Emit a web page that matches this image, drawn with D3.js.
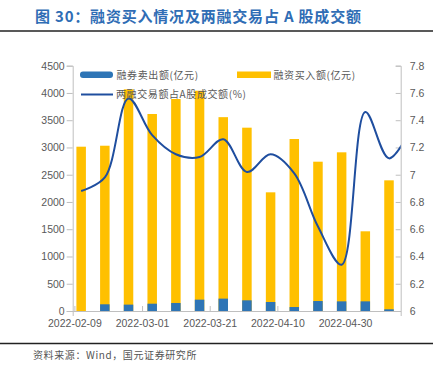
<!DOCTYPE html>
<html><head><meta charset="utf-8">
<script src="https://cdn.jsdelivr.net/npm/d3@7"></script>
<style>
html,body{margin:0;padding:0;background:#fff;}
svg{display:block;}
</style></head>
<body>
<svg id="c" width="446" height="391"></svg>
<script>
// ---- data ----
const dates = ["2022-02-11","2022-02-18","2022-02-25","2022-03-04","2022-03-11","2022-03-18","2022-03-25","2022-04-01","2022-04-08","2022-04-15","2022-04-22","2022-04-29","2022-05-06","2022-05-13"];
const marginSell = [0, 123, 117, 134, 147, 208, 227, 196, 165, 73, 183, 177, 177, 31];       // 融券卖出额(亿元)
const marginBuy  = [3014, 3032, 4067, 3614, 3889, 4041, 3556, 3363, 2177, 3155, 2739, 2911, 1462, 2397]; // 融资买入额(亿元)
const ratioDates = ["2022-02-11","2022-02-18","2022-02-25","2022-03-04","2022-03-11","2022-03-18","2022-03-25","2022-04-01","2022-04-08","2022-04-15","2022-04-22","2022-04-29","2022-05-06","2022-05-13","2022-05-20"];
const ratio = [6.88, 6.98, 7.56, 7.29, 7.15, 7.13, 7.26, 7.02, 7.15, 7.01, 6.62, 6.34, 7.46, 7.12, 7.36]; // 两融交易额占A股成交额(%)
const xTicks = ["2022-02-09","2022-03-01","2022-03-21","2022-04-10","2022-04-30"];
const leftTicks = [0,500,1000,1500,2000,2500,3000,3500,4000,4500];
const rightTicks = [6,6.2,6.4,6.6,6.8,7,7.2,7.4,7.6,7.8];
const legendNames = ["融券卖出额(亿元)","融资买入额(亿元)","两融交易额占A股成交额(%)"];
const title = "图 30：融资买入情况及两融交易占 A 股成交额";
const source = "资料来源：Wind，国元证券研究所";

// ---- layout ----
const svg = d3.select("#c");
const L = 72.7, R = 400.7, T = 65.7, B = 311;
const colBlue = "#2E75B6", colYellow = "#FFC000", colLine = "#1F4E9F", txt = "#595959", axisCol = "#BFBFBF";
const parse = s => new Date(s + "T00:00:00Z");

const x = d3.scaleUtc().domain([new Date(Date.UTC(2022,1,8,12)), new Date(Date.UTC(2022,4,16,11))]).range([L, R]);
const yL = d3.scaleLinear().domain([0, 4500]).range([B, T]);
const yR = d3.scaleLinear().domain([6, 7.8]).range([B, T]);

// title
svg.append("text").attr("x", 35).attr("y", 22).attr("fill", "#2F6DB5")
  .attr("font-family", "'Noto Sans CJK SC', sans-serif").attr("font-weight", "bold")
  .attr("font-size", 15).attr("letter-spacing", 0.8).text(title);
svg.append("line").attr("x1", 0).attr("x2", 433).attr("y1", 31).attr("y2", 31).attr("stroke", "#222").attr("stroke-width", 1.6);
svg.append("line").attr("x1", 0).attr("x2", 433).attr("y1", 343.5).attr("y2", 343.5).attr("stroke", "#222").attr("stroke-width", 1.4);
svg.append("text").attr("x", 33).attr("y", 359).attr("fill", "#555")
  .attr("font-family", "'Noto Sans CJK SC', sans-serif").attr("font-size", 10).attr("letter-spacing", 0.6).text(source);

// axes
const fontAx = "'Liberation Sans', Arial, sans-serif";
const gL = svg.append("g").attr("transform", `translate(${L},0)`)
  .call(d3.axisLeft(yL).tickValues(leftTicks).tickSize(6).tickPadding(2).tickFormat(d3.format("d")));
const gR = svg.append("g").attr("transform", `translate(${R},0)`)
  .call(d3.axisRight(yR).tickValues(rightTicks).tickSize(-5).tickPadding(9).tickFormat(d => String(+d.toFixed(1))));
const gX = svg.append("g").attr("transform", `translate(0,${B})`)
  .call(d3.axisBottom(x).tickValues(xTicks.map(parse)).tickSize(5).tickPadding(4).tickFormat(d3.utcFormat("%Y-%m-%d")));
[gL, gR, gX].forEach(g => {
  g.selectAll("path.domain").attr("stroke", axisCol);
  g.selectAll(".tick line").attr("stroke", axisCol);
  g.selectAll(".tick text").attr("fill", txt).attr("font-family", fontAx).attr("font-size", 10.5);
});
gX.selectAll(".tick line").attr("transform", "translate(0,-5)");

// bars
const bw = 9.5;
svg.append("g").selectAll("rect").data(dates).join("rect")
  .attr("x", (d) => x(parse(d)) - bw/2).attr("width", bw)
  .attr("y", (d,i) => yL(marginBuy[i])).attr("height", (d,i) => B - yL(marginBuy[i]))
  .attr("fill", colYellow);
svg.append("g").selectAll("rect").data(dates).join("rect")
  .attr("x", (d) => x(parse(d)) - bw/2).attr("width", bw)
  .attr("y", (d,i) => yL(marginSell[i])).attr("height", (d,i) => B - yL(marginSell[i]))
  .attr("fill", colBlue);

// line
svg.append("clipPath").attr("id", "clip").append("rect").attr("x", L).attr("y", T - 10).attr("width", R - L).attr("height", B - T + 10);
const line = d3.line().x((d) => x(parse(d))).y((d,i) => yR(ratio[i])).curve(d3.curveCatmullRom.alpha(0.5));
svg.append("path").datum(ratioDates).attr("d", line).attr("fill", "none")
  .attr("stroke", colLine).attr("stroke-width", 2).attr("clip-path", "url(#clip)");

// redraw baseline on top
svg.append("line").attr("x1", L).attr("x2", R).attr("y1", B + 0.5).attr("y2", B + 0.5).attr("stroke", axisCol);

// legend
const lf = "'Noto Sans CJK SC', sans-serif";
const leg = svg.append("g");
leg.append("rect").attr("x", 80).attr("y", 71.5).attr("width", 33).attr("height", 6.5).attr("rx", 3).attr("fill", colBlue);
leg.append("text").attr("x", 116.5).attr("y", 78.5).text(legendNames[0]);
leg.append("rect").attr("x", 237).attr("y", 71.5).attr("width", 34).attr("height", 6.5).attr("fill", colYellow);
leg.append("text").attr("x", 273.5).attr("y", 78.5).text(legendNames[1]);
leg.append("line").attr("x1", 81).attr("x2", 113).attr("y1", 94.5).attr("y2", 94.5).attr("stroke", colLine).attr("stroke-width", 2);
leg.append("text").attr("x", 116).attr("y", 98).text(legendNames[2]);
leg.selectAll("text").attr("fill", txt).attr("font-family", lf).attr("font-size", 10).attr("letter-spacing", 0.6);
</script>
</body></html>
